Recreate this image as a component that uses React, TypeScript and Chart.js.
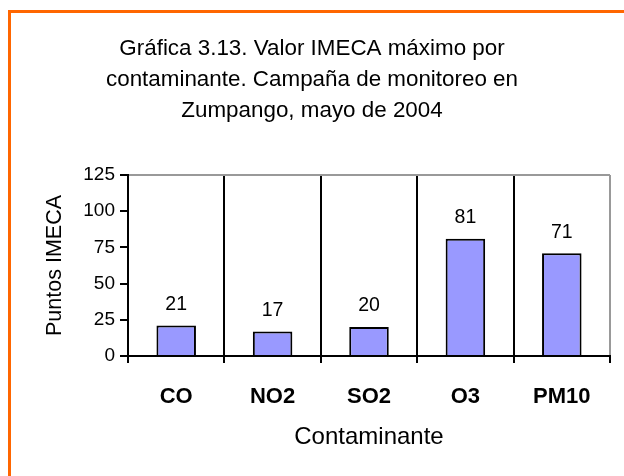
import React, { useEffect, useRef } from 'react';
import { Chart, registerables } from 'chart.js';

Chart.register(...registerables);

// ---- data ----
const categories: string[] = ['CO', 'NO2', 'SO2', 'O3', 'PM10'];
const imecaValues: number[] = [21, 17, 20, 81, 71];
const titleLines: string[] = [
  'Gráfica 3.13. Valor IMECA máximo por',
  'contaminante. Campaña de monitoreo en',
  'Zumpango, mayo de 2004',
];
const yAxisTitle = 'Puntos IMECA';
const xAxisTitle = 'Contaminante';
const yMin = 0;
const yMax = 125;
const yStep = 25;

const CW = 624;
const CH = 476;
const FONT = "'Liberation Sans', Arial, Helvetica, sans-serif";
const PAD_LEFT = 14;
const PLOT_LEFT = 128;

const valueLabelPlugin = {
  id: 'valueLabels',
  afterDatasetsDraw(chart: any) {
    const ctx = chart.ctx;
    const meta = chart.getDatasetMeta(0);
    const data = chart.data.datasets[0].data;
    ctx.save();
    ctx.font = `19.5px ${FONT}`;
    ctx.fillStyle = '#000';
    ctx.textAlign = 'center';
    ctx.textBaseline = 'middle';
    meta.data.forEach((el: any, i: number) => {
      ctx.fillText(String(data[i]), el.x, el.y - 21);
    });
    ctx.restore();
  },
};

export default function App() {
  const canvasRef = useRef<HTMLCanvasElement | null>(null);

  useEffect(() => {
    if (!canvasRef.current) return;
    const chart = new Chart(canvasRef.current, {
      type: 'bar',
      data: {
        labels: categories,
        datasets: [
          {
            data: imecaValues,
            backgroundColor: '#9999FF',
            borderColor: '#000000',
            borderWidth: 2,
            barPercentage: 0.41,
            categoryPercentage: 1,
          },
        ],
      },
      plugins: [valueLabelPlugin],
      options: {
        responsive: false,
        devicePixelRatio: 1,
        animation: false,
        layout: { padding: { left: PAD_LEFT, right: 14, top: 0, bottom: 0 } },
        plugins: {
          legend: { display: false },
          tooltip: { enabled: false },
          title: {
            display: true,
            text: titleLines,
            color: '#000',
            font: { family: FONT, size: 22.4, weight: 'normal', lineHeight: '31px' },
            padding: { top: 33, bottom: 49 },
          },
        },
        scales: {
          x: {
            type: 'category',
            offset: true,
            grid: {
              offset: true,
              display: true,
              drawOnChartArea: true,
              drawTicks: true,
              tickLength: 7,
              color: (c: any) => (c.type === 'tick' ? '#000' : '#999'),
              tickColor: '#000',
              lineWidth: 2,
              tickWidth: 2,
            },
            border: { display: true, color: '#000', width: 2 },
            ticks: {
              color: '#000',
              font: { family: FONT, size: 22, weight: 'bold' },
              padding: 20.3,
              maxRotation: 0,
              autoSkip: false,
            },
            title: {
              display: true,
              text: xAxisTitle,
              color: '#000',
              font: { family: FONT, size: 24 },
              padding: { top: 0, bottom: 24.6 },
            },
            afterFit: (scale: any) => {
              scale.height = 120;
            },
          },
          y: {
            min: yMin,
            max: yMax,
            ticks: {
              stepSize: yStep,
              color: '#000',
              font: { family: FONT, size: 19 },
              padding: 5,
            },
            grid: {
              color: (c: any) => (c.tick && c.tick.value === yMax ? '#999' : 'rgba(0,0,0,0)'),
              tickColor: '#000',
              tickLength: 8,
              lineWidth: 2,
              tickWidth: 2,
              drawTicks: true,
            },
            border: { display: true, color: '#000', width: 2 },
            title: {
              display: true,
              text: yAxisTitle,
              color: '#000',
              font: { family: FONT, size: 21.5 },
              padding: { top: 28.1, bottom: 0 },
            },
            afterFit: (scale: any) => {
              scale.width = PLOT_LEFT - PAD_LEFT;
            },
          },
        },
      },
    } as any);
    return () => chart.destroy();
  }, []);

  return (
    <div
      style={{
        position: 'fixed',
        left: 0,
        top: 0,
        width: 624,
        height: 476,
        overflow: 'hidden',
        background: '#fff',
      }}
    >
      <div
        style={{
          position: 'absolute',
          left: 8,
          top: 10,
          width: 1000,
          height: 1000,
          borderLeft: '3px solid #FF6600',
          borderTop: '3px solid #FF6600',
        }}
      />
      <canvas
        ref={canvasRef}
        width={CW}
        height={CH}
        style={{ position: 'absolute', left: 0, top: 0, width: CW, height: CH, display: 'block' }}
      />
    </div>
  );
}
